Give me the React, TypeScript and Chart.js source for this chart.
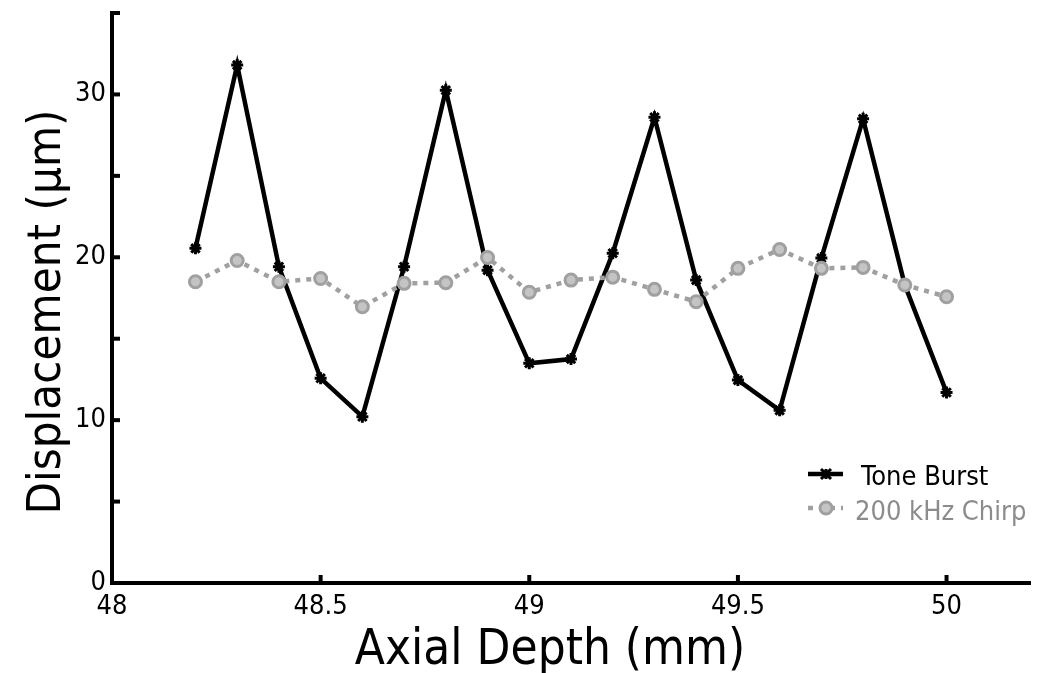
import React, { useEffect, useRef } from "react";
import { Chart, registerables } from "chart.js";

Chart.register(...registerables);

const depthMm = [48.2, 48.3, 48.4, 48.5, 48.6, 48.7, 48.8, 48.9, 49.0, 49.1, 49.2, 49.3, 49.4, 49.5, 49.6, 49.7, 49.8, 49.9, 50.0];
const toneBurst = [20.55, 31.8, 19.42, 12.57, 10.21, 19.42, 30.26, 19.21, 13.49, 13.75, 20.25, 28.6, 18.6, 12.46, 10.6, 19.95, 28.5, 18.3, 11.7];
const chirp200k = [18.5, 19.8, 18.5, 18.7, 16.96, 18.4, 18.44, 19.99, 17.85, 18.6, 18.78, 18.03, 17.27, 19.32, 20.48, 19.32, 19.38, 18.3, 17.58];
const xTickValues = [48, 48.5, 49, 49.5, 50];
const yTickValues = [0, 10, 20, 30];
const yMinorTicks = [5, 10, 15, 20, 25, 30, 35];
const xMinorTicks = [48.5, 49, 49.5, 50];
const seriesNames = ["Tone Burst", "200 kHz Chirp"];
const xTitle = "Axial Depth (mm)";
const yTitle = "Displacement (μm)";

const FONT = "'DejaVu Sans Condensed', 'DejaVu Sans', sans-serif";
const GRAY_LINE = "#a0a0a0";
const GRAY_FILL = "#c4c4c4";
const GRAY_TEXT = "#8c8c8c";

const decorPlugin = {
  id: "decor",
  afterDraw(chart: any) {
    const ctx = chart.ctx;
    const xs = chart.scales.x;
    const ys = chart.scales.y;
    const area = chart.chartArea;
    ctx.save();
    // inward tick marks
    ctx.strokeStyle = "#000";
    ctx.lineWidth = 4;
    ctx.lineCap = "butt";
    for (const v of yMinorTicks) {
      const py = ys.getPixelForValue(v);
      ctx.beginPath();
      ctx.moveTo(area.left, py);
      ctx.lineTo(area.left + 8, py);
      ctx.stroke();
    }
    for (const v of xMinorTicks) {
      const px = xs.getPixelForValue(v);
      ctx.beginPath();
      ctx.moveTo(px, area.bottom);
      ctx.lineTo(px, area.bottom - 8);
      ctx.stroke();
    }
    // axis titles
    ctx.fillStyle = "#000";
    ctx.textBaseline = "alphabetic";
    ctx.textAlign = "center";
    ctx.font = `49px ${FONT}`;
    ctx.fillText(xTitle, 550, 664);
    ctx.save();
    ctx.translate(60, 312);
    ctx.rotate(-Math.PI / 2);
    ctx.font = `47px ${FONT}`;
    ctx.fillText(yTitle, 0, 0);
    ctx.restore();
    // legend
    const lx0 = 808;
    const lx1 = 843;
    const mx = 826;
    const rows = [
      { y: 474, base: 485, color: "#000", text: seriesNames[0], dash: [] as number[], tx: 861 },
      { y: 508, base: 520, color: GRAY_TEXT, text: seriesNames[1], dash: [5, 6], tx: 855 },
    ];
    ctx.font = `27px ${FONT}`;
    ctx.textAlign = "left";
    rows.forEach((r, i) => {
      ctx.setLineDash(r.dash);
      ctx.lineWidth = 4.5;
      ctx.strokeStyle = i === 0 ? "#000" : GRAY_LINE;
      ctx.beginPath();
      ctx.moveTo(lx0, r.y);
      ctx.lineTo(lx1, r.y);
      ctx.stroke();
      ctx.setLineDash([]);
      if (i === 0) {
        ctx.lineWidth = 3;
        ctx.strokeStyle = "#000";
        const rr = 5;
        ctx.beginPath();
        ctx.moveTo(mx - rr, r.y - rr); ctx.lineTo(mx + rr, r.y + rr);
        ctx.moveTo(mx - rr, r.y + rr); ctx.lineTo(mx + rr, r.y - rr);
        ctx.moveTo(mx, r.y - rr); ctx.lineTo(mx, r.y + rr);
        ctx.moveTo(mx - rr, r.y); ctx.lineTo(mx + rr, r.y);
        ctx.stroke();
      } else {
        ctx.fillStyle = GRAY_FILL;
        ctx.strokeStyle = GRAY_LINE;
        ctx.lineWidth = 3;
        ctx.beginPath();
        ctx.arc(mx, r.y, 6, 0, Math.PI * 2);
        ctx.fill();
        ctx.stroke();
      }
      ctx.fillStyle = r.color;
      ctx.fillText(r.text, r.tx, r.base);
    });
    ctx.restore();
  },
};

export default function App() {
  const ref = useRef<HTMLCanvasElement | null>(null);
  useEffect(() => {
    if (!ref.current) return;
    const chart = new Chart(ref.current, {
      type: "line",
      data: {
        datasets: [
          {
            label: seriesNames[0],
            data: depthMm.map((x, i) => ({ x, y: toneBurst[i] })),
            borderColor: "#000",
            borderWidth: 4.5,
            pointStyle: "star",
            pointRadius: 6,
            pointBorderWidth: 3,
            pointBorderColor: "#000",
            pointBackgroundColor: "#000",
            tension: 0,
            order: 1,
          },
          {
            label: seriesNames[1],
            data: depthMm.map((x, i) => ({ x, y: chirp200k[i] })),
            borderColor: GRAY_LINE,
            borderWidth: 4.5,
            borderDash: [5, 6],
            pointStyle: "circle",
            pointRadius: 6,
            pointBorderWidth: 3,
            pointBorderColor: GRAY_LINE,
            pointBackgroundColor: GRAY_FILL,
            tension: 0,
            order: 0,
          },
        ],
      },
      options: {
        animation: false,
        responsive: false,
        devicePixelRatio: 1,
        layout: { padding: { top: 13, right: 6, left: 0, bottom: 0 } },
        plugins: { legend: { display: false }, tooltip: { enabled: false } },
        scales: {
          x: {
            type: "linear",
            min: 48,
            max: 50.2,
            grid: { display: false, drawTicks: false },
            border: { display: true, color: "#000", width: 4 },
            afterBuildTicks: (s: any) => {
              s.ticks = xTickValues.map((v) => ({ value: v }));
            },
            afterFit: (s: any) => {
              s.height = 90;
              s.paddingLeft = 0;
              s.paddingRight = 0;
            },
            ticks: {
              color: "#000",
              padding: 8,
              font: { family: FONT, size: 27 },
              callback: (v: any) => String(v),
              maxRotation: 0,
              autoSkip: false,
            },
          },
          y: {
            type: "linear",
            min: 0,
            max: 35,
            grid: { display: false, drawTicks: false },
            border: { display: true, color: "#000", width: 4 },
            afterBuildTicks: (s: any) => {
              s.ticks = yTickValues.map((v) => ({ value: v }));
            },
            afterFit: (s: any) => {
              s.width = 112;
              s.paddingTop = 0;
              s.paddingBottom = 0;
            },
            ticks: {
              color: "#000",
              padding: 6,
              font: { family: FONT, size: 27 },
              callback: (v: any) => String(v),
            },
          },
        },
      },
      plugins: [decorPlugin],
    });
    return () => chart.destroy();
  }, []);
  return (
    <div style={{ position: "absolute", left: 0, top: 0, width: 1039, height: 673, background: "#fff" }}>
      <canvas ref={ref} width={1039} height={673} style={{ width: 1039, height: 673 }} />
    </div>
  );
}
